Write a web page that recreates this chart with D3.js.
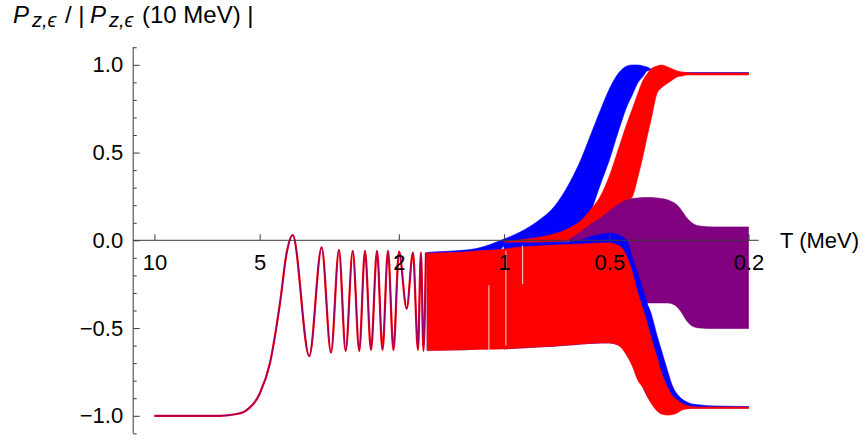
<!DOCTYPE html>
<html>
<head>
<meta charset="utf-8">
<script src="https://cdn.jsdelivr.net/npm/d3@7"></script>
<style>
  body { margin: 0; background: #fff; }
  svg text { font-family: "Liberation Sans", Arial, sans-serif; }
</style>
</head>
<body>
<svg id="chart" width="867" height="440"></svg>
<script>
// ---- data ----
// early single curve (all cases coincide): T in MeV, value
var lineT = [10, 7.5, 6.49, 5.82, 5.446, 4.989, 4.671, 4.373, 4.184, 4.022, 3.607, 3.324, 3.126, 2.966, 2.838,
             2.709, 2.595, 2.499, 2.402, 2.309, 2.227, 2.148, 2.072, 1.998, 1.899, 1.822, 1.763, 1.729, 1.70, 1.673];
var lineV = [-1.0, -1.0, -1.0, -0.99, -0.967, -0.87, -0.699, -0.357, -0.07, 0.03, -0.66, -0.04, -0.64, -0.055, -0.63,
             -0.06, -0.63, -0.06, -0.625, -0.06, -0.625, -0.06, -0.625, -0.065, -0.39, -0.07, -0.625, -0.07, -0.63, -0.07];

// envelopes of the fast oscillations, on a common T grid
var tGrid = [1.66, 1.6, 1.4, 1.2, 1.0, 0.9, 0.8, 0.72, 0.65, 0.6, 0.57, 0.53, 0.5, 0.47, 0.445, 0.43,
             0.415, 0.4, 0.39, 0.38, 0.365, 0.355, 0.34, 0.33, 0.32, 0.31, 0.3, 0.29, 0.275, 0.25, 0.2];

var blueUpTop = [-0.070, -0.067, -0.061, -0.047, 0.007, 0.047, 0.110, 0.190, 0.327, 0.470, 0.583, 0.743, 0.862, 0.954, 0.993, 0.999,
                 0.999, 0.993, 0.987, 0.976, 0.965, 0.956, 0.956, 0.956, 0.956, 0.956, 0.956, 0.956, 0.956, 0.956, 0.956];
var blueUpBot = [-0.625, -0.625, -0.625, -0.619, -0.032, -0.027, -0.021, -0.015, -0.004, 0.047, 0.144, 0.320, 0.457, 0.628, 0.765, 0.828,
                 0.896, 0.936, 0.965, 0.970, 0.953, 0.948, 0.948, 0.948, 0.948, 0.948, 0.948, 0.948, 0.948, 0.948, 0.948];

var redUpTop = [null, null, null, null, -0.010, 0.002, 0.016, 0.036, 0.070, 0.115, 0.167, 0.252, 0.366, 0.526, 0.668, 0.748,
                0.834, 0.914, 0.948, 0.976, 0.993, 0.999, 0.987, 0.976, 0.965, 0.959, 0.956, 0.953, 0.953, 0.953, 0.953];
var redUpBot = [null, null, null, null, -0.010, -0.010, -0.010, -0.007, -0.004, 0.013, 0.047, 0.087, 0.133, 0.184, 0.224, 0.247,
                0.355, 0.486, 0.589, 0.685, 0.839, 0.868, 0.896, 0.914, 0.931, 0.936, 0.942, 0.942, 0.942, 0.942, 0.942];

var purpleTop = [null, null, null, null, null, null, null, null, 0.007, 0.053, 0.087, 0.127, 0.167, 0.207, 0.230, 0.238,
                 0.241, 0.244, 0.244, 0.244, 0.241, 0.238, 0.230, 0.218, 0.201, 0.167, 0.127, 0.099, 0.081, 0.076, 0.076];
var purpleBot = [null, null, null, null, null, null, null, null, -0.010, -0.055, -0.101, -0.169, -0.226, -0.283, -0.323, -0.340,
                 -0.352, -0.357, -0.357, -0.357, -0.357, -0.357, -0.357, -0.363, -0.380, -0.415, -0.460, -0.488, -0.500, -0.503, -0.503];

var blueLoTop = [null, null, null, null, -0.027, -0.024, -0.021, -0.015, -0.010, 0.002, 0.019, 0.033, 0.041, 0.030, -0.004, -0.095,
                 -0.186, -0.283, -0.357, -0.415, -0.545, -0.625, -0.750, -0.830, -0.876, -0.904, -0.921, -0.933, -0.938, -0.944, -0.947];
var blueLoBot = [null, null, null, null, -0.619, -0.614, -0.608, -0.603, -0.597, -0.591, -0.588, -0.585, -0.585, -0.597, -0.636, -0.693,
                 -0.773, -0.842, -0.887, -0.921, -0.967, -0.984, -0.990, -0.984, -0.973, -0.961, -0.956, -0.956, -0.956, -0.956, -0.956];

var redLoTop = [-0.075, -0.072, -0.070, -0.061, -0.050, -0.038, -0.032, -0.027, -0.024, -0.021, -0.018, -0.015, -0.015, -0.030, -0.095, -0.180,
                -0.295, -0.397, -0.471, -0.551, -0.671, -0.750, -0.842, -0.887, -0.910, -0.930, -0.941, -0.947, -0.950, -0.950, -0.950];
var redLoBot = [-0.628, -0.628, -0.625, -0.622, -0.619, -0.614, -0.608, -0.603, -0.597, -0.591, -0.588, -0.585, -0.585, -0.600, -0.659, -0.716,
                -0.796, -0.842, -0.887, -0.927, -0.973, -0.990, -0.996, -0.993, -0.984, -0.967, -0.961, -0.958, -0.958, -0.958, -0.958];

// thin white gaps inside the dense red band: T, top, bottom
var gapT = [1.105, 0.988, 0.885];
var gapTop = [-0.255, -0.06, -0.03];
var gapBot = [-0.625, -0.60, -0.25];

var xTicks = [10, 5, 2, 1, 0.5, 0.2];
var yTicks = [-1, -0.5, 0, 0.5, 1];
var yMinor = [-1.1, -0.9, -0.8, -0.7, -0.6, -0.4, -0.3, -0.2, -0.1, 0.1, 0.2, 0.3, 0.4, 0.6, 0.7, 0.8, 0.9, 1.1];

// ---- chart ----
var svg = d3.select("#chart");
svg.append("rect").attr("width", 867).attr("height", 440).attr("fill", "#fff");

var x = d3.scaleLog().domain([10, 0.2]).range([154.4, 748.5]);
var y = d3.scaleLinear().domain([-1, 1]).range([415.8, 64.8]);

function band(top, bot) {
  return tGrid.map(function(t, i){ return {t: t, top: top[i], bot: bot[i]}; });
}
var area = d3.area()
    .defined(function(d){ return d.top != null; })
    .x(function(d){ return x(d.t); })
    .y0(function(d){ return y(d.bot); })
    .y1(function(d){ return y(d.top); })
    .curve(d3.curveMonotoneX);

var bands = [
  {data: band(blueUpTop, blueUpBot), color: "#0000ff"},
  {data: band(redUpTop, redUpBot), color: "#ff0000"},
  {data: band(purpleTop, purpleBot), color: "#800080"},
  {data: band(blueLoTop, blueLoBot), color: "#0000ff"},
  {data: band(redLoTop, redLoBot), color: "#ff0000"}
];
bands.forEach(function(b){
  svg.append("path").datum(b.data)
      .attr("d", area)
      .attr("fill", b.color)
      .attr("stroke", b.color)
      .attr("stroke-width", 0.6);
});

svg.selectAll("line.gap").data(gapT).enter().append("line")
    .attr("class", "gap")
    .attr("x1", function(d){ return x(d); }).attr("x2", function(d){ return x(d); })
    .attr("y1", function(d, i){ return y(gapTop[i]); })
    .attr("y2", function(d, i){ return y(gapBot[i]); })
    .attr("stroke", "#fff").attr("stroke-width", 1).attr("opacity", 0.85);

// single curve before the splitting
var lineData = lineT.map(function(t, i){ return {t: t, v: lineV[i]}; });
var line = d3.line()
    .x(function(d){ return x(d.t); })
    .y(function(d){ return y(d.v); })
    .curve(d3.curveMonotoneX);
svg.append("path").datum(lineData).attr("d", line)
    .attr("fill", "none").attr("stroke", "#ff0000").attr("stroke-width", 2.2);
svg.append("path").datum(lineData).attr("d", line)
    .attr("fill", "none").attr("stroke", "#800080").attr("stroke-width", 1.2).attr("opacity", 0.85);

// axes
var axisColor = "#3a3a3a";
var gx = svg.append("g")
    .attr("transform", "translate(0," + y(0) + ")")
    .call(d3.axisBottom(x).tickValues(xTicks).tickFormat(function(d){ return String(d); })
          .tickSize(-6).tickPadding(14.5));
gx.select(".domain").remove();
gx.attr("font-size", 22).attr("font-family", "Liberation Sans, Arial, sans-serif");
gx.selectAll("line").attr("stroke", axisColor);
gx.selectAll("text").attr("fill", "#000");

var gy = svg.append("g")
    .attr("transform", "translate(" + x(11.5) + ",0)")
    .call(d3.axisLeft(y).tickValues(yTicks).tickFormat(d3.format(".1f"))
          .tickSize(-6.5).tickPadding(10));
gy.select(".domain").remove();
gy.attr("font-size", 22).attr("font-family", "Liberation Sans, Arial, sans-serif");
gy.selectAll("line").attr("stroke", axisColor);
gy.selectAll("text").attr("fill", "#000");

var gym = svg.append("g")
    .attr("transform", "translate(" + x(11.5) + ",0)")
    .call(d3.axisLeft(y).tickValues(yMinor).tickFormat("").tickSize(-3.5));
gym.select(".domain").remove();
gym.selectAll("line").attr("stroke", axisColor);

svg.append("line")
    .attr("x1", x(11.5)).attr("x2", x(0.187))
    .attr("y1", y(0)).attr("y2", y(0))
    .attr("stroke", axisColor).attr("stroke-width", 1);
svg.append("line")
    .attr("x1", x(11.5)).attr("x2", x(11.5))
    .attr("y1", y(-1.1)).attr("y2", y(1.1))
    .attr("stroke", axisColor).attr("stroke-width", 1);

// axis labels
svg.append("text").attr("x", 780).attr("y", 248)
    .attr("font-size", 22).text("T (MeV)");

var title = svg.append("text").attr("y", 23).attr("font-size", 24);
title.append("tspan").attr("x", 13).attr("font-style", "italic").text("P");
title.append("tspan").attr("x", 32).attr("dy", 4).attr("font-size", 20).attr("font-style", "italic").text("z,ϵ");
title.append("tspan").attr("x", 65).attr("dy", -4).text("/ |");
title.append("tspan").attr("x", 90).attr("font-style", "italic").text("P");
title.append("tspan").attr("x", 109).attr("dy", 4).attr("font-size", 20).attr("font-style", "italic").text("z,ϵ");
title.append("tspan").attr("x", 142).attr("dy", -4).text("(10 MeV) |");
</script>
</body>
</html>
